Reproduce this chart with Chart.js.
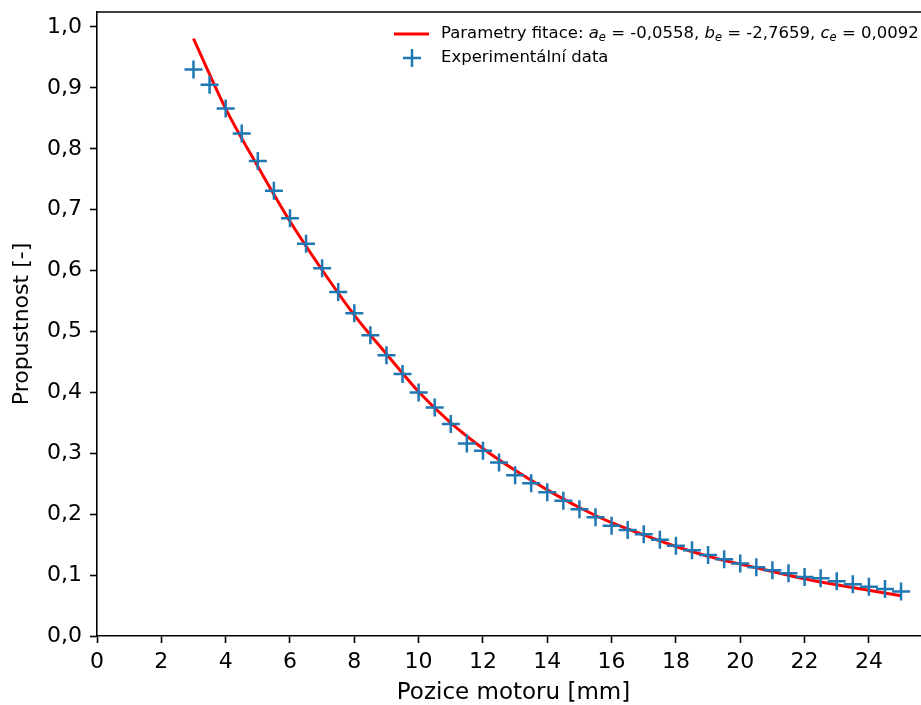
<!DOCTYPE html>
<html>
<head>
<meta charset="utf-8">
<script src="https://cdn.jsdelivr.net/npm/chart.js@4"></script>
<style>
  html, body { margin: 0; padding: 0; background: #fff; overflow: hidden; }
  #wrap { width: 950px; height: 705px; }
</style>
</head>
<body>
<div id="wrap"><canvas id="transChart" width="950" height="705"></canvas></div>
<script>
// measured positions [mm] and transmittance
const pozice = [3, 3.5, 4, 4.5, 5, 5.5, 6, 6.5, 7, 7.5, 8, 8.5, 9, 9.5, 10, 10.5, 11, 11.5,
  12, 12.5, 13, 13.5, 14, 14.5, 15, 15.5, 16, 16.5, 17, 17.5, 18, 18.5, 19, 19.5, 20,
  20.5, 21, 21.5, 22, 22.5, 23, 23.5, 24, 24.5, 25];
const propustnost = [0.930, 0.905, 0.866, 0.825, 0.780, 0.731, 0.686, 0.644, 0.604, 0.565,
  0.530, 0.494, 0.461, 0.430, 0.400, 0.375, 0.348, 0.316, 0.304, 0.285, 0.264, 0.251,
  0.236, 0.222, 0.208, 0.195, 0.181, 0.174, 0.167, 0.158, 0.148, 0.141, 0.133, 0.126,
  0.119, 0.113, 0.108, 0.103, 0.097, 0.095, 0.090, 0.085, 0.081, 0.077, 0.073];

// fitted curve
const fitX = [3, 4, 5, 6, 7, 8, 9, 10, 11, 12, 13, 14, 15, 16, 17, 18, 19, 20, 21, 22, 23, 24, 25];
const fitY = [0.981, 0.866, 0.771, 0.681, 0.601, 0.527, 0.463, 0.401, 0.350, 0.308, 0.272,
  0.240, 0.211, 0.186, 0.166, 0.147, 0.131, 0.118, 0.106, 0.094, 0.084, 0.075, 0.066];

const xTicks = [0, 2, 4, 6, 8, 10, 12, 14, 16, 18, 20, 22, 24];
const yTicks = [0, 0.1, 0.2, 0.3, 0.4, 0.5, 0.6, 0.7, 0.8, 0.9, 1.0];

const FONT = 'DejaVu Sans';

// top spine + legend with italic/subscript parameters
const framePlugin = {
  id: 'frame',
  afterDraw(chart) {
    const ctx = chart.ctx;
    const a = chart.chartArea;
    ctx.save();
    ctx.strokeStyle = '#000';
    ctx.lineWidth = 1.6;
    ctx.beginPath();
    ctx.moveTo(a.left, a.top);
    ctx.lineTo(a.right, a.top);
    ctx.stroke();

    const lx = a.left + 344;
    const y1 = a.top + 22;
    const y2 = a.top + 46;
    // line sample
    ctx.strokeStyle = '#ff0000';
    ctx.lineWidth = 3;
    ctx.beginPath();
    ctx.moveTo(lx - 47, y1);
    ctx.lineTo(lx - 12, y1);
    ctx.stroke();
    // cross sample
    ctx.strokeStyle = '#1f77b4';
    ctx.lineWidth = 2.5;
    const cx = lx - 29;
    ctx.beginPath();
    ctx.moveTo(cx - 9, y2); ctx.lineTo(cx + 9, y2);
    ctx.moveTo(cx, y2 - 9); ctx.lineTo(cx, y2 + 9);
    ctx.stroke();

    const fs = 16.5;
    const parts = [
      ['Parametry fitace: ', 'n'], ['a', 'i'], ['e', 's'], [' = -0,0558, ', 'n'],
      ['b', 'i'], ['e', 's'], [' = -2,7659, ', 'n'],
      ['c', 'i'], ['e', 's'], [' = 0,0092', 'n']
    ];
    ctx.fillStyle = '#000';
    ctx.textBaseline = 'middle';
    ctx.textAlign = 'left';
    let x = lx;
    parts.forEach(([t, k]) => {
      let dy = 0;
      if (k === 'n') ctx.font = fs + 'px "' + FONT + '"';
      else if (k === 'i') ctx.font = 'oblique ' + fs + 'px "' + FONT + '"';
      else { ctx.font = 'oblique ' + (fs * 0.7) + 'px "' + FONT + '"'; dy = fs * 0.25; }
      ctx.fillText(t, x, y1 + dy);
      x += ctx.measureText(t).width;
    });
    ctx.font = fs + 'px "' + FONT + '"';
    ctx.fillText('Experimentální data', lx, y2);
    ctx.restore();
  }
};

const ctx = document.getElementById('transChart').getContext('2d');
new Chart(ctx, {
  type: 'scatter',
  data: {
    datasets: [{
      label: 'Experimentální data',
      data: pozice.map((p, i) => ({ x: p, y: propustnost[i] })),
      pointStyle: 'cross',
      pointRadius: 9,
      pointHoverRadius: 9,
      borderColor: '#1f77b4',
      backgroundColor: '#1f77b4',
      pointBorderWidth: 2.5,
      showLine: false,
      order: 0
    }, {
      label: 'Parametry fitace',
      data: fitX.map((p, i) => ({ x: p, y: fitY[i] })),
      showLine: true,
      pointRadius: 0,
      borderColor: '#ff0000',
      borderWidth: 3,
      cubicInterpolationMode: 'monotone',
      order: 1
    }]
  },
  options: {
    responsive: false,
    animation: false,
    devicePixelRatio: 1,
    layout: { padding: { top: 12, right: 20, left: 0, bottom: 0 } },
    plugins: { legend: { display: false }, tooltip: { enabled: false } },
    scales: {
      x: {
        type: 'linear',
        min: 0,
        max: 25.9,
        afterFit: s => { s.height = 69; s.paddingLeft = 0; s.paddingRight = 0; },
        afterBuildTicks: s => { s.ticks = xTicks.map(v => ({ value: v })); },
        grid: { drawOnChartArea: false, tickLength: 7, tickColor: '#000', tickWidth: 1.6 },
        border: { display: true, color: '#000', width: 1.6 },
        ticks: { color: '#000', padding: 6, maxRotation: 0, font: { family: FONT, size: 22 } },
        title: {
          display: true, text: 'Pozice motoru [mm]', color: '#000',
          font: { family: FONT, size: 23, lineHeight: 1 }, padding: { top: 0, bottom: 0 }
        }
      },
      y: {
        type: 'linear',
        min: 0,
        max: 1.0246,
        afterFit: s => { s.width = 97; s.paddingTop = 0; s.paddingBottom = 0; },
        afterBuildTicks: s => { s.ticks = yTicks.map(v => ({ value: v })); },
        grid: { drawOnChartArea: false, tickLength: 7, tickColor: '#000', tickWidth: 1.6 },
        border: { display: true, color: '#000', width: 1.6 },
        ticks: {
          color: '#000', padding: 8, font: { family: FONT, size: 22, lineHeight: 1 },
          callback: v => v.toFixed(1).replace('.', ',')
        },
        title: {
          display: true, text: 'Propustnost [-]', color: '#000',
          font: { family: FONT, size: 22, lineHeight: 1 }, padding: { top: 11, bottom: 0 }
        }
      }
    }
  },
  plugins: [framePlugin]
});
</script>
</body>
</html>
